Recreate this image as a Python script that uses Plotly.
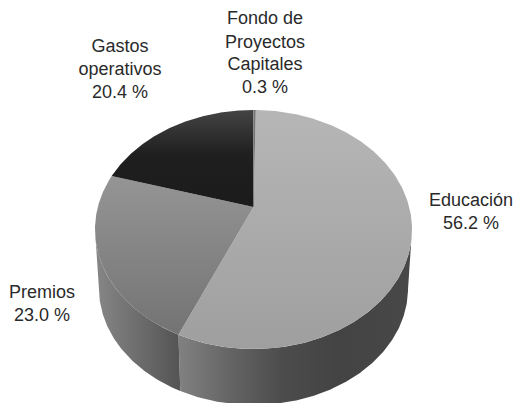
import numpy as np
import plotly.graph_objects as go

categories = ["Educación", "Premios", "Gastos operativos", "Fondo de Proyectos Capitales"]
values = [56.2, 23.0, 20.4, 0.3]
percent_labels = ["56.2 %", "23.0 %", "20.4 %", "0.3 %"]
label_lines = [["Educación", "56.2 %"], ["Premios", "23.0 %"],
               ["Gastos", "operativos", "20.4 %"],
               ["Fondo de", "Proyectos", "Capitales", "0.3 %"]]
label_x = [471, 42, 120, 265]
label_y = [[201, 224], [293, 316], [47, 70, 93], [19, 43, 65, 88]]

# perspective of the disc
K = 0.188
ROTATION = 1.0
TOP = dict(x0=253.5, y0=207.0, a=155.7, b=115.3)
BOT = dict(x0=253.5, y0=266.5, a=151.8, b=112.4)
EDGE = np.degrees(np.arccos(-K))  # angle of the widest point

top_grad = [
    (110, 349, [[0, "#b6b6b6"], [1, "#9f9f9f"]]),
    (160, 336, [[0, "#989898"], [1, "#737373"]]),
    (110, 208, [[0, "#444444"], [0.45, "#1f1f1f"], [1, "#1b1b1b"]]),
    (110, 208, [[0, "#777777"], [1, "#6a6a6a"]]),
]
side_grad = [
    (180, 408, [[0, "#808080"], [0.25, "#616161"], [0.45, "#4c4c4c"], [0.7, "#434343"], [1, "#484848"]]),
    (98, 180, [[0, "#858585"], [1, "#545454"]]),
    (98, 180, [[0, "#333333"], [1, "#333333"]]),
    (98, 180, [[0, "#333333"], [1, "#333333"]]),
]


def project(theta_deg, p):
    t = np.radians(theta_deg)
    u, v = np.sin(t), np.cos(t)
    d = 1 + K * v
    return p["x0"] + p["a"] * u / d, p["y0"] - p["b"] * v / d


total = sum(values)
edges = np.cumsum([0] + values) / total * 360 + ROTATION
fig = go.Figure()

# outer walls
for i in range(len(values)):
    lo, hi = max(edges[i], EDGE), min(edges[i + 1], 360 - EDGE)
    if hi <= lo:
        continue
    th = np.linspace(lo, hi, 160)
    xt, yt = project(th, TOP)
    xb, yb = project(th[::-1], BOT)
    s, e, cs = side_grad[i]
    fig.add_trace(go.Scatter(
        x=np.r_[xt, xb, xt[0]], y=np.r_[yt, yb, yt[0]], mode="lines", fill="toself",
        line=dict(width=0), hoverinfo="skip",
        fillgradient=dict(type="horizontal", start=s, stop=e, colorscale=cs)))

# top face
for i in range(len(values)):
    th = np.linspace(edges[i], edges[i + 1], 240)
    xt, yt = project(th, TOP)
    s, e, cs = top_grad[i]
    fig.add_trace(go.Scatter(
        x=np.r_[TOP["x0"], xt, TOP["x0"]], y=np.r_[TOP["y0"], yt, TOP["y0"]],
        mode="lines", fill="toself", line=dict(width=0), name=categories[i],
        hoverinfo="skip",
        fillgradient=dict(type="vertical", start=s, stop=e, colorscale=cs)))

# labels
for lines, x, ys in zip(label_lines, label_x, label_y):
    fig.add_trace(go.Scatter(
        x=[x] * len(lines), y=ys, text=lines, mode="text", textposition="middle center",
        textfont=dict(family="Liberation Sans", size=18, color="#2a2a2a"), hoverinfo="skip"))

fig.update_layout(
    width=516, height=403, margin=dict(l=0, r=0, t=0, b=0), showlegend=False,
    paper_bgcolor="white", plot_bgcolor="white",
    xaxis=dict(range=[0, 516], visible=False, fixedrange=True),
    yaxis=dict(range=[403, 0], visible=False, fixedrange=True),
)
fig.write_html("out.html", config={"displayModeBar": False},
               post_script="document.body.style.margin='0';")
